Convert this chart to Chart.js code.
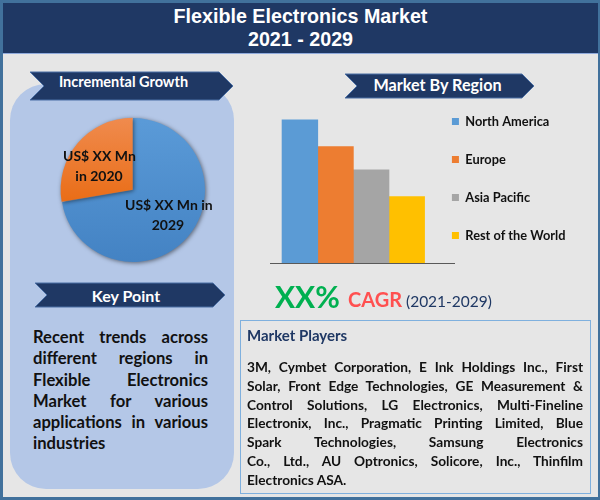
<!DOCTYPE html>
<html>
<head>
<meta charset="utf-8">
<script src="https://cdn.jsdelivr.net/npm/chart.js@4"></script>
<style>
html, body { margin: 0; padding: 0; }
body { width: 600px; height: 500px; position: relative; overflow: hidden; background: #41719c; font-family: Lato, sans-serif; }
div, canvas, svg { position: absolute; }
.line { white-space: nowrap; }
.rib { color: #fff; font-weight: bold; text-align: center; }
</style>
</head>
<body>
<div style="left:3px;top:53px;width:595px;height:444px;background:#e6e6e6"></div>
<div style="left:3px;top:3px;width:595px;height:51px;background:#1f3864;border-bottom:1px solid #8faadc;box-sizing:border-box"></div>
<div style="left:3px;top:5px;width:595px;text-align:center;color:#fff;font:bold 19.7px/23px 'Liberation Sans',sans-serif">Flexible Electronics Market<br>2021 - 2029</div>

<div style="left:10px;top:84px;width:224px;height:405px;background:#b4c7e7;border-radius:36px"></div>

<svg style="left:0;top:0" width="600" height="500">
  <polygon points="30,72 219,72 233,86 219,100 30,100 44,86" fill="#1f3864" stroke="#4a6fa5" stroke-width="1"/>
  <polygon points="345,74 522,74 534,86 522,98 345,98 357,86" fill="#1f3864" stroke="#4a6fa5" stroke-width="1"/>
  <polygon points="35,283 213,283 225,295 213,307 35,307 47,295" fill="#1f3864" stroke="#4a6fa5" stroke-width="1"/>
</svg>
<div class="rib line" style="left:30px;top:72px;width:187px;font-size:14.5px;line-height:20px">Incremental Growth</div>
<div class="rib line" style="left:344px;top:75px;width:187px;font-size:16.2px;line-height:20px">Market By Region</div>
<div class="rib line" style="left:33px;top:286px;width:186px;font-size:16px;line-height:20px">Key Point</div>

<canvas id="pieChart" width="170" height="170" style="left:48px;top:105px"></canvas>
<canvas id="barChart" width="343" height="203" style="left:260px;top:90px"></canvas>

<div class="line" style="left:63px;top:146px;width:72px;text-align:center;font-size:14px;font-weight:bold;line-height:20px;color:#111">US$ XX Mn<br>in 2020</div>
<div class="line" style="left:125px;top:195px;width:86px;text-align:center;font-size:14px;font-weight:bold;line-height:20px;color:#111">US$ XX Mn in<br>2029</div>

<div id="keyText" style="left:33px;top:327px;width:175px;font-size:16.6px;font-weight:bold;line-height:21.3px;color:#111"></div>

<div class="line" style="left:275px;top:276px;font-size:30px;font-weight:bold;line-height:40px;color:#00b050">XX%</div>
<div class="line" style="left:348px;top:286px;font-size:20px;font-weight:bold;line-height:26px;color:#ff5050">CAGR</div>
<div class="line" style="left:406px;top:290px;font-size:15.5px;line-height:22px;color:#1f3864">(2021-2029)</div>

<div style="left:240px;top:320px;width:351px;height:174px;border:1px solid #7fb0de;box-sizing:border-box"></div>
<div class="line" style="left:247px;top:325px;font-size:15px;font-weight:bold;line-height:20px;color:#1f3864">Market Players</div>
<div id="playerText" style="left:247px;top:358px;width:336px;font-size:13.7px;font-weight:bold;line-height:18.8px;color:#111"></div>

<script>
// pie values
const pieLabels = ["2029", "2020"];
const pieValues = [72.3, 27.7];

// bar values, one series per region
const regions = ["North America", "Europe", "Asia Pacific", "Rest of the World"];
const regionValues = [4.3, 3.5, 2.8, 2.0];
const regionColors = ["#5b9bd5", "#ed7d31", "#a5a5a5", "#ffc000"];

const keyLines = [
    "Recent trends across",
    "different regions in",
    "Flexible Electronics",
    "Market for various",
    "applications in various",
    "industries"
];
const playerLines = [
    "3M, Cymbet Corporation, E Ink Holdings Inc., First",
    "Solar, Front Edge Technologies, GE Measurement &",
    "Control Solutions, LG Electronics, Multi-Fineline",
    "Electronix, Inc., Pragmatic Printing Limited, Blue",
    "Spark Technologies, Samsung Electronics",
    "Co., Ltd., AU Optronics, Solicore, Inc., Thinfilm",
    "Electronics ASA."
];

function fillLines(id, lines) {
    const box = document.getElementById(id);
    lines.forEach((text, i) => {
        const el = document.createElement("p");
        el.textContent = text;
        el.style.margin = "0";
        el.style.textAlign = i < lines.length - 1 ? "justify" : "left";
        el.style.textAlignLast = i < lines.length - 1 ? "justify" : "left";
        box.appendChild(el);
    });
}
fillLines("keyText", keyLines);
fillLines("playerText", playerLines);

const pieCtx = document.getElementById("pieChart").getContext("2d");
const blueFill = pieCtx.createLinearGradient(0, 10, 0, 160);
blueFill.addColorStop(0, "#5b9bd8");
blueFill.addColorStop(1, "#4382c3");
const orangeFill = pieCtx.createLinearGradient(0, 10, 0, 100);
orangeFill.addColorStop(0, "#f08c50");
orangeFill.addColorStop(1, "#e96c15");

const pieShadow = {
    id: "pieShadow",
    beforeDatasetsDraw(chart) {
        const c = chart.ctx;
        c.save();
        c.shadowColor = "rgba(0,0,0,0.5)";
        c.shadowBlur = 4;
        c.shadowOffsetX = 1;
        c.shadowOffsetY = 1;
    },
    afterDatasetsDraw(chart) {
        chart.ctx.restore();
    }
};

new Chart(pieCtx, {
    type: "pie",
    data: {
        labels: pieLabels,
        datasets: [{
            data: pieValues,
            backgroundColor: [blueFill, orangeFill],
            borderWidth: 0,
            offset: [0, 2]
        }]
    },
    options: {
        responsive: false,
        animation: false,
        layout: { padding: 12 },
        plugins: { legend: { display: false }, tooltip: { enabled: false } }
    },
    plugins: [pieShadow]
});

// the legend sits closer to the bars than its own padding allows
const legendNudge = {
    id: "legendNudge",
    afterLayout(chart) {
        chart.legend.left -= 27.5;
        chart.legend.right -= 27.5;
    }
};

// linear x axis: the bars are not centred on the axis line in the original
new Chart(document.getElementById("barChart"), {
    type: "bar",
    data: {
        datasets: regions.map((name, i) => ({
            label: name,
            data: [{ x: i, y: regionValues[i] }],
            backgroundColor: regionColors[i],
            grouped: false,
            barThickness: 35.75
        }))
    },
    options: {
        responsive: false,
        animation: false,
        layout: { padding: { left: 10, right: 0, top: 0, bottom: 0 } },
        scales: {
            x: {
                type: "linear",
                offset: false,
                min: -0.84,
                max: 4.335,
                grid: { display: false, drawTicks: false },
                border: { color: "#595959", width: 1 },
                ticks: { display: false },
                afterFit(scale) { scale.height = 30; }
            },
            y: { display: false, min: 0, max: 5.2 }
        },
        plugins: {
            tooltip: { enabled: false },
            legend: {
                position: "right",
                align: "start",
                labels: {
                    boxWidth: 7,
                    boxHeight: 7,
                    padding: 25.2,
                    color: "#111",
                    font: { family: "Lato", size: 12.8, weight: "bold" }
                }
            }
        }
    },
    plugins: [legendNudge]
});
</script>
</body>
</html>
